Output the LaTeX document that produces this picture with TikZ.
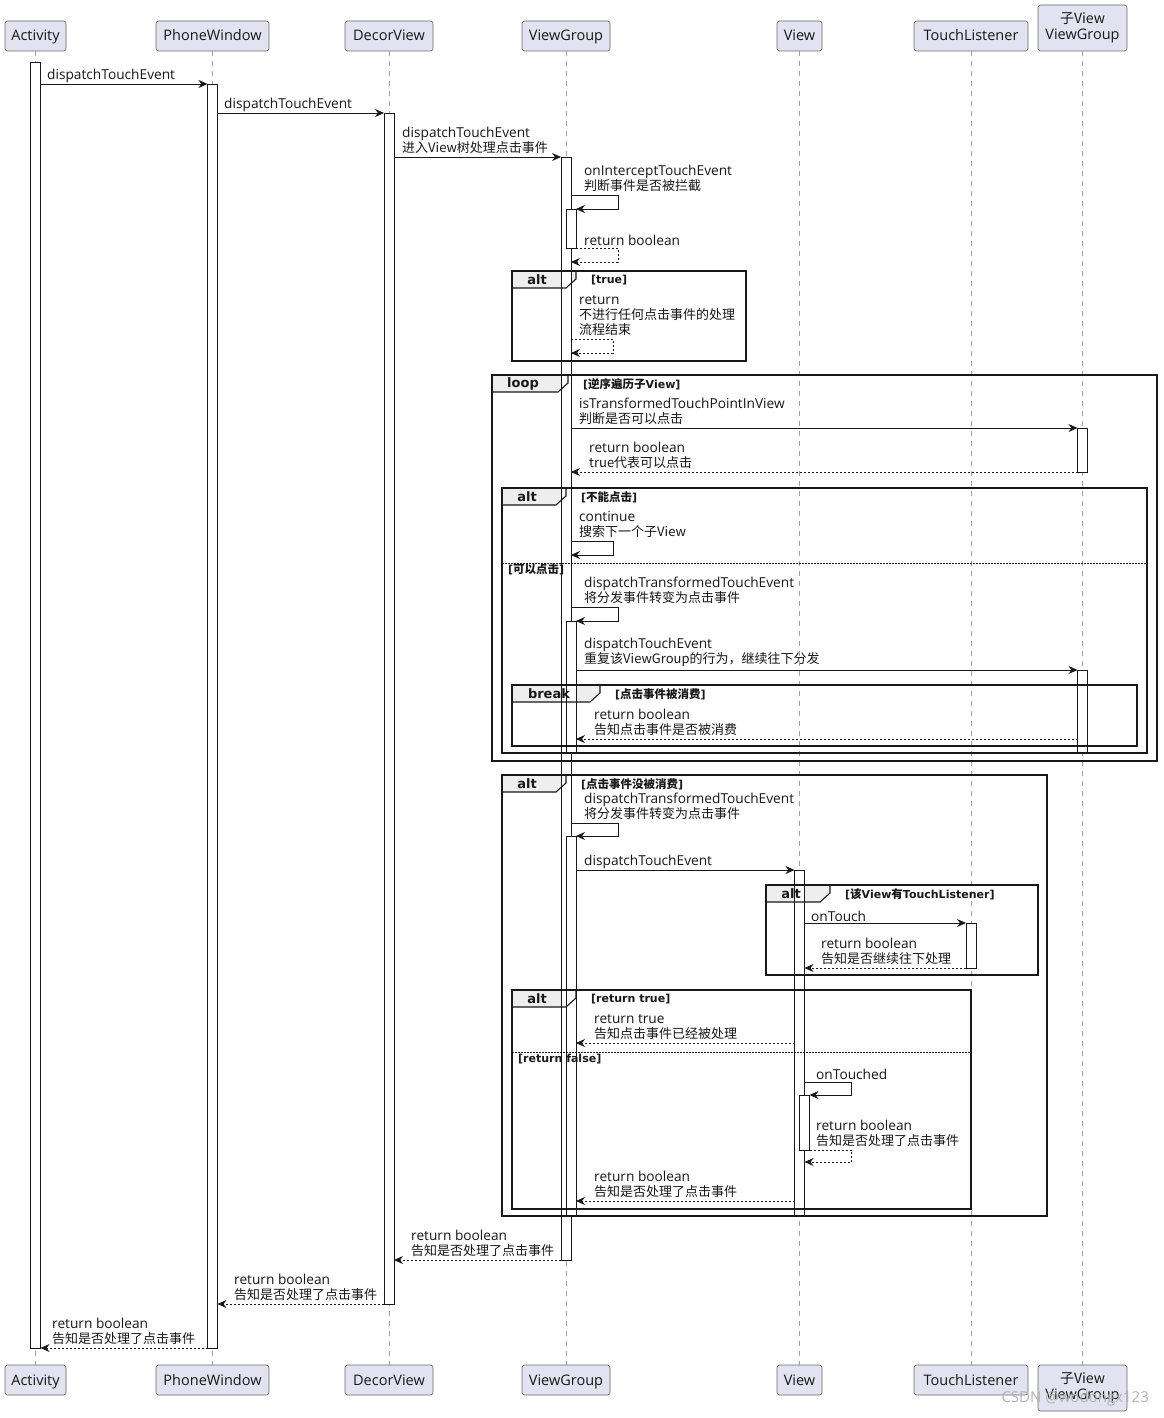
\documentclass[tikz,border=0pt]{standalone}
\usepackage{fontspec}
\setmainfont{Open Sans}
\newfontfamily\zhfont{Noto Sans CJK SC}
\newfontfamily\grdfont{DejaVu Sans}
\newcommand\zh[1]{{\zhfont\fontsize{13}{15}\selectfont #1}}
\newcommand\gz[1]{{\zhfont\fontsize{11.5}{13}\selectfont #1}}
\usetikzlibrary{arrows.meta}
\definecolor{partfill}{HTML}{E2E2F0}
\definecolor{tabfill}{HTML}{EEEEEE}
\definecolor{lifegray}{HTML}{A0A0A0}
\definecolor{ink}{HTML}{181818}
\tikzset{
 part/.style={draw=ink!65, fill=partfill, rounded corners=2.5, line width=0.6, inner sep=0, font=\fontsize{14.5}{16}\selectfont, align=center, text=ink},
 one/.style={text height=12pt, text depth=2pt},
 life/.style={draw=lifegray, line width=0.8, dash pattern=on 5pt off 5pt},
 act/.style={draw=ink, fill=white, line width=0.9, minimum width=10pt, minimum height=#1, inner sep=0, outer sep=0, anchor=north},
 msg/.style={draw=ink, line width=0.9, -{Stealth[length=9pt,width=8pt,inset=3pt]}},
 ret/.style={msg, dash pattern=on 2pt off 2pt},
 lbl/.style={inner sep=0, anchor=south west, align=left, font=\fontsize{13.7}{15}\selectfont, text=ink},
 frm/.style={draw=ink, line width=1.4},
 tabtxt/.style={font=\grdfont\bfseries\fontsize{13}{14}\selectfont, inner sep=0, text=ink},
 grd/.style={font=\grdfont\bfseries\fontsize{11}{13}\selectfont, inner sep=0, anchor=west, text=ink},
 sepline/.style={draw=ink, line width=0.8, dash pattern=on 1.5pt off 1.5pt},
}
% tab fill: x0 y0 tabw
\newcommand\tabfill[3]{\fill[tabfill] (#1,#2) -- ({#1+#3},#2) -- ({#1+#3},{#2+8}) -- ({#1+#3-10},{#2+17}) -- (#1,{#2+17}) -- cycle;}
% frame: name x0 y0 x1 y1 tabw label guard
\newcommand\seqframe[8]{%
 \draw[frm] (#2,#3) rectangle (#4,#5);
 \draw[frm, line width=1.1] (#2,{#3+17}) -- ({#2+#6-10},{#3+17}) -- ({#2+#6},{#3+8}) -- ({#2+#6},#3);
 \node[tabtxt] (#1t) at ({#2+(#6-14)/2},{#3+8.5}) {#7};
 \node[grd] (#1g) at ({#2+#6+15},{#3+9}) {#8};
}
\begin{document}
\begin{tikzpicture}[x=1pt,y=-1pt]
\useasboundingbox (0,0) rectangle (1163,1418);
\fill[white] (0,0) rectangle (1163,1418);

% participants
\node[part, one, minimum width=61, minimum height=30] (pA) at (35.5,36) {Activity};
\node[part, one, minimum width=113, minimum height=30] (pP) at (212.5,36) {PhoneWindow};
\node[part, one, minimum width=88, minimum height=30] (pD) at (389,36) {DecorView};
\node[part, one, minimum width=88, minimum height=30] (pV) at (566,36) {ViewGroup};
\node[part, one, minimum width=45, minimum height=30] (pW) at (799.5,36) {View};
\node[part, one, minimum width=114, minimum height=30] (pT) at (971,36) {TouchListener};
\node[part, minimum width=89, minimum height=46] (pC) at (1082.5,28) {{\zhfont\fontsize{14}{16}\selectfont 子View}\\ViewGroup};
\node[part, one, minimum width=61, minimum height=30] (pAb) at (35.5,1380) {Activity};
\node[part, one, minimum width=113, minimum height=30] (pPb) at (212.5,1380) {PhoneWindow};
\node[part, one, minimum width=88, minimum height=30] (pDb) at (389,1380) {DecorView};
\node[part, one, minimum width=88, minimum height=30] (pVb) at (566,1380) {ViewGroup};
\node[part, one, minimum width=45, minimum height=30] (pWb) at (799.5,1380) {View};
\node[part, one, minimum width=114, minimum height=30] (pTb) at (971,1380) {TouchListener};
\node[part, minimum width=89, minimum height=46] (pCb) at (1082.5,1388) {{\zhfont\fontsize{14}{16}\selectfont 子View}\\ViewGroup};

% lifelines
\draw[life] (pA.south) -- (pAb.north);
\draw[life] (pP.south) -- (pPb.north);
\draw[life] (pD.south) -- (pDb.north);
\draw[life] (pV.south) -- (pVb.north);
\draw[life] (pW.south) -- (pWb.north);
\draw[life] (pT.south) -- (pTb.north);
\draw[life] (pC.south) -- (pCb.north);

% tab fills
\tabfill{512}{271}{64}
\tabfill{492}{375}{76}
\tabfill{502}{488}{64}
\tabfill{512}{685}{88}
\tabfill{502}{775}{64}
\tabfill{766}{885}{64}
\tabfill{512}{990}{64}

% activation bars
\node[act=1286] (aA) at (35.5,62) {};
\node[act=1264] (aP) at (212.5,84) {};
\node[act=1191] (aD) at (389,113) {};
\node[act=1103] (aV) at (566,157) {};
\node[act=39] (aV2) at (571,209) {};
\node[act=132] (aV3) at (571,621) {};
\node[act=380] (aV4) at (571,836) {};
\node[act=44] (aC1) at (1082.5,428) {};
\node[act=83] (aC2) at (1082.5,670) {};
\node[act=346] (aW) at (799.5,870) {};
\node[act=55] (aW2) at (804.5,1095) {};
\node[act=45] (aT) at (971,923) {};

% frames
\seqframe{f1}{512}{271}{746}{361}{64}{alt}{[true]}
\seqframe{f2}{492}{375}{1157}{761}{76}{loop}{[\gz{逆序遍历子}View]}
\seqframe{f3}{502}{488}{1147}{753}{64}{alt}{[\gz{不能点击}]}
\draw[sepline] (502,563) -- (1147,563);
\node[grd] (f3g2) at (508,569) {[\gz{可以点击}]};
\seqframe{f4}{512}{685}{1137}{746}{88}{break}{[\gz{点击事件被消费}]}
\seqframe{f5}{502}{775}{1047}{1216}{64}{alt}{[\gz{点击事件没被消费}]}
\seqframe{f6}{766}{885}{1038}{975}{64}{alt}{[\gz{该}View\gz{有}TouchListener]}
\seqframe{f7}{512}{990}{971}{1209}{64}{alt}{[return true]}
\draw[sepline] (512,1052) -- (971,1052);
\node[grd] (f7g2) at (518,1059) {[return false]};

% messages
\draw[msg] (aA.east |- 0,84) -- (aP.west |- 0,84);
\draw[msg] (aP.east |- 0,113) -- (aD.west |- 0,113);
\draw[msg] (aD.east |- 0,157) -- (aV.west |- 0,157);
\draw[msg] (aV.east |- 0,195) -- ++(47,0) -- ++(0,14) -- (aV2.east |- 0,209);
\draw[ret] (aV2.east |- 0,248) -- ++(42,0) -- ++(0,14) -- (aV.east |- 0,262);
\draw[ret] (aV.east |- 0,339) -- ++(42,0) -- ++(0,14) -- (aV.east |- 0,353);
\draw[msg] (aV.east |- 0,428) -- (aC1.west |- 0,428);
\draw[ret] (aC1.west |- 0,472) -- (aV.east |- 0,472);
\draw[msg] (aV.east |- 0,541) -- ++(42,0) -- ++(0,14) -- (aV.east |- 0,555);
\draw[msg] (aV.east |- 0,607) -- ++(47,0) -- ++(0,14) -- (aV3.east |- 0,621);
\draw[msg] (aV3.east |- 0,670) -- (aC2.west |- 0,670);
\draw[ret] (aC2.west |- 0,739) -- (aV3.east |- 0,739);
\draw[msg] (aV.east |- 0,823) -- ++(47,0) -- ++(0,13) -- (aV4.east |- 0,836);
\draw[msg] (aV4.east |- 0,870) -- (aW.west |- 0,870);
\draw[msg] (aW.east |- 0,923) -- (aT.west |- 0,923);
\draw[ret] (aT.west |- 0,968) -- (aW.east |- 0,968);
\draw[ret] (aW.west |- 0,1043) -- (aV4.east |- 0,1043);
\draw[msg] (aW.east |- 0,1082) -- ++(47,0) -- ++(0,13) -- (aW2.east |- 0,1095);
\draw[ret] (aW2.east |- 0,1150) -- ++(42,0) -- ++(0,12) -- (aW.east |- 0,1162);
\draw[ret] (aW.west |- 0,1201) -- (aV4.east |- 0,1201);
\draw[ret] (aV.west |- 0,1260) -- (aD.east |- 0,1260);
\draw[ret] (aD.west |- 0,1304) -- (aP.east |- 0,1304);
\draw[ret] (aP.west |- 0,1348) -- (aA.east |- 0,1348);

% labels
\node[lbl] (l1) at (47,82.5) {dispatchTouchEvent};
\node[lbl] (l2) at (224,111.5) {dispatchTouchEvent};
\node[lbl] (l3) at (402,154) {dispatchTouchEvent\\\zh{进入View树处理点击事件}};
\node[lbl] (l4) at (584,192) {onInterceptTouchEvent\\\zh{判断事件是否被拦截}};
\node[lbl] (l5) at (584,246) {return boolean};
\node[lbl] (l6) at (579,336) {return\\\zh{不进行任何点击事件的处理}\\\zh{流程结束}};
\node[lbl] (l7) at (579,425) {isTransformedTouchPointInView\\\zh{判断是否可以点击}};
\node[lbl] (l8) at (589,469) {return boolean\\\zh{true代表可以点击}};
\node[lbl] (l9) at (579,538) {continue\\\zh{搜索下一个子View}};
\node[lbl] (l10) at (584,604) {dispatchTransformedTouchEvent\\\zh{将分发事件转变为点击事件}};
\node[lbl] (l11) at (584,667) {dispatchTouchEvent\\\zh{重复该ViewGroup的行为，继续往下分发}};
\node[lbl] (l12) at (594,736) {return boolean\\\zh{告知点击事件是否被消费}};
\node[lbl] (l13) at (584,820) {dispatchTransformedTouchEvent\\\zh{将分发事件转变为点击事件}};
\node[lbl] (l14) at (584,868.5) {dispatchTouchEvent};
\node[lbl] (l15) at (811,921.5) {onTouch};
\node[lbl] (l16) at (821,965) {return boolean\\\zh{告知是否继续往下处理}};
\node[lbl] (l17) at (594,1040) {return true\\\zh{告知点击事件已经被处理}};
\node[lbl] (l18) at (816,1080) {onTouched};
\node[lbl] (l19) at (816,1147) {return boolean\\\zh{告知是否处理了点击事件}};
\node[lbl] (l20) at (594,1198) {return boolean\\\zh{告知是否处理了点击事件}};
\node[lbl] (l21) at (411,1257) {return boolean\\\zh{告知是否处理了点击事件}};
\node[lbl] (l22) at (234,1301) {return boolean\\\zh{告知是否处理了点击事件}};
\node[lbl] (l23) at (52,1345) {return boolean\\\zh{告知是否处理了点击事件}};

% watermark
\node[font=\fontsize{15}{17}\selectfont, text=gray!60, anchor=east, inner sep=0] (wm) at (1149,1399) {CSDN @wodongx123};
\end{tikzpicture}
\end{document}
